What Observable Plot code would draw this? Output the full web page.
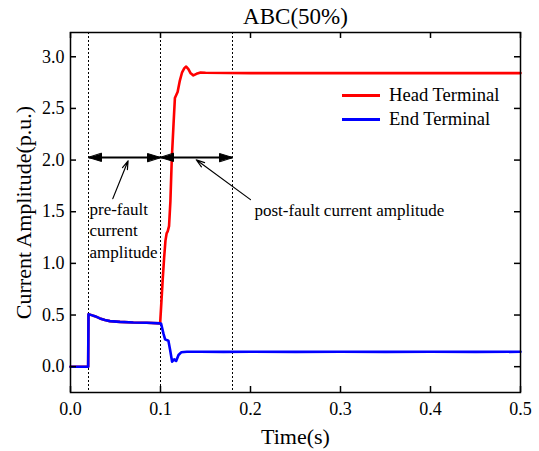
<!DOCTYPE html>
<html>
<head>
<meta charset="utf-8">
<script src="https://cdn.jsdelivr.net/npm/d3@7"></script>
<script src="https://cdn.jsdelivr.net/npm/@observablehq/plot@0.6"></script>
<style>
  body { margin: 0; background: #fff; }
  #wrap { position: relative; width: 539px; height: 451px; font-family: "Liberation Serif", "Times New Roman", serif; }
  #wrap svg { display: block; }
  .legend { position: absolute; left: 342px; top: 83px; font-size: 18.6px; color: #000; }
  .row { display: flex; align-items: center; height: 24px; }
  .sw { width: 38px; height: 3px; margin-right: 9px; }
</style>
</head>
<body>
<div id="wrap"></div>
<script>
// ---- data ----
const titleText = "ABC(50%)";
const xLabel = "Time(s)";
const yLabel = "Current Amplitude(p.u.)";
const seriesNames = ["Head Terminal", "End Terminal"];
const seriesColors = ["#ff0000", "#0000ff"];

const xTicks = [0, 0.1, 0.2, 0.3, 0.4, 0.5];
const yTicks = [0, 0.5, 1.0, 1.5, 2.0, 2.5, 3.0];

const headTime = [0, 0.0196, 0.0200, 0.0234, 0.0271, 0.0327, 0.0382, 0.0438, 0.055, 0.0698, 0.0847, 0.0996,
  0.1025, 0.104, 0.1055, 0.1068, 0.108, 0.1095, 0.111, 0.1125, 0.1145, 0.116, 0.1175, 0.119, 0.1215, 0.124,
  0.1265, 0.1285, 0.131, 0.1335, 0.1365, 0.140, 0.1445, 0.150, 0.2, 0.3, 0.4, 0.5];
const headVals = [0, 0, 0.508, 0.499, 0.489, 0.467, 0.451, 0.441, 0.434, 0.428, 0.425, 0.419,
  0.85, 1.05, 1.22, 1.29, 1.31, 1.36, 1.6, 2.0, 2.35, 2.6, 2.63, 2.66, 2.77, 2.85,
  2.89, 2.905, 2.88, 2.84, 2.82, 2.835, 2.848, 2.845, 2.842, 2.842, 2.842, 2.842];

const endTime = [0, 0.0196, 0.0200, 0.0234, 0.0271, 0.0327, 0.0382, 0.0438, 0.055, 0.0698, 0.0847, 0.0996,
  0.1007, 0.1032, 0.1051, 0.1088, 0.1107, 0.1129, 0.1152, 0.1174, 0.120, 0.123, 0.1293, 0.1441,
  0.17, 0.2, 0.25, 0.3, 0.35, 0.4, 0.45, 0.5];
const endVals = [0, 0, 0.508, 0.499, 0.489, 0.467, 0.451, 0.441, 0.434, 0.428, 0.425, 0.419,
  0.415, 0.322, 0.264, 0.251, 0.161, 0.048, 0.071, 0.055, 0.113, 0.139, 0.145, 0.145,
  0.143, 0.144, 0.143, 0.144, 0.143, 0.144, 0.143, 0.144];

const dashTimes = [0.02, 0.1, 0.18];
const spanStart = [0.02, 0.1];
const spanEnd = [0.1, 0.18];
const spanLevel = 2.025;

const pointerFromX = [0.047, 0.200];
const pointerFromY = [1.627, 1.617];
const pointerToX = [0.064, 0.1397];
const pointerToY = [1.993, 2.003];

const noteText = ["pre-fault\ncurrent\namplitude", "post-fault current amplitude"];
const noteX = [0.02, 0.2033];
const noteY = [1.056, 1.455];

// ---- build ----
const W = 539, H = 451, mL = 70, mR = 19, mT = 32, mB = 59;
const fw = W - mL - mR, fh = H - mT - mB;
const head = headTime.map((t, i) => ({t, v: headVals[i]}));
const end = endTime.map((t, i) => ({t, v: endVals[i]}));
const spans = spanStart.map((s, i) => ({s, e: spanEnd[i], y: spanLevel}));
const pointers = pointerFromX.map((x, i) => ({x1: x, y1: pointerFromY[i], x2: pointerToX[i], y2: pointerToY[i]}));
const notes = noteText.map((t, i) => ({t, x: noteX[i], y: noteY[i]}));
const headShape = {draw(ctx, l) { ctx.moveTo(0, -l); ctx.lineTo(-4, 0); ctx.lineTo(4, 0); ctx.closePath(); }};
const fmt = d3.format(".1f");

const chart = Plot.plot({
  width: W, height: H,
  marginLeft: mL, marginRight: mR, marginTop: mT, marginBottom: mB,
  style: {fontFamily: '"Liberation Serif", "Times New Roman", serif', fontSize: "18px", color: "black", background: "white", overflow: "visible"},
  x: {domain: [0, 0.5]},
  y: {domain: [-0.25, 3.235]},
  marks: [
    Plot.ruleX(dashTimes, {x: d => d, stroke: "black", strokeWidth: 1, strokeDasharray: "2,2"}),
    Plot.line(head, {x: "t", y: "v", stroke: seriesColors[0], strokeWidth: 2.6, strokeLinejoin: "round"}),
    Plot.line(end, {x: "t", y: "v", stroke: seriesColors[1], strokeWidth: 2.6, strokeLinejoin: "round"}),
    Plot.frame({stroke: "black", strokeWidth: 1.5}),
    Plot.ruleX(xTicks, {x: d => d, insetTop: fh - 6, strokeWidth: 1.5}),
    Plot.ruleX(xTicks, {x: d => d, insetBottom: fh - 6, strokeWidth: 1.5}),
    Plot.ruleY(yTicks, {y: d => d, insetRight: fw - 6, strokeWidth: 1.5}),
    Plot.ruleY(yTicks, {y: d => d, insetLeft: fw - 6, strokeWidth: 1.5}),
    Plot.axisX(xTicks, {tickSize: 0, tickPadding: 10, tickFormat: fmt, label: null}),
    Plot.axisY(yTicks, {tickSize: 0, tickPadding: 6, tickFormat: fmt, label: null}),
    // double arrows
    Plot.link(spans, {x1: "s", x2: "e", y1: "y", y2: "y", stroke: "black", strokeWidth: 2}),
    Plot.vector(spans, {x: "s", y: "y", rotate: -90, length: 13, anchor: "end", shape: headShape, fill: "black", stroke: "black", strokeWidth: 1}),
    Plot.vector(spans, {x: "e", y: "y", rotate: 90, length: 13, anchor: "end", shape: headShape, fill: "black", stroke: "black", strokeWidth: 1}),
    // pointers
    Plot.arrow(pointers, {x1: "x1", y1: "y1", x2: "x2", y2: "y2", stroke: "black", strokeWidth: 1.2, headLength: 11, headAngle: 35}),
    Plot.text(notes, {x: "x", y: "y", text: "t", textAnchor: "start", lineAnchor: "bottom", lineHeight: 1.25, fontSize: 17, dx: 1, fill: "black"}),
    // titles
    Plot.text([titleText], {text: d => d, frameAnchor: "top", lineAnchor: "bottom", dy: -9, fontSize: 23, fill: "black"}),
    Plot.text([xLabel], {text: d => d, frameAnchor: "bottom", lineAnchor: "bottom", dy: 51, fontSize: 22, fill: "black"}),
    Plot.text([yLabel], {text: d => d, frameAnchor: "left", rotate: -90, lineAnchor: "middle", textAnchor: "middle", dx: -47, fontSize: 22, fill: "black"})
  ]
});

const wrap = document.getElementById("wrap");
wrap.appendChild(chart);

const legend = document.createElement("div");
legend.className = "legend";
seriesNames.forEach((name, i) => {
  const row = document.createElement("div");
  row.className = "row";
  const sw = document.createElement("div");
  sw.className = "sw";
  sw.style.background = seriesColors[i];
  const lab = document.createElement("span");
  lab.textContent = name;
  row.appendChild(sw);
  row.appendChild(lab);
  legend.appendChild(row);
});
wrap.appendChild(legend);
</script>
</body>
</html>
